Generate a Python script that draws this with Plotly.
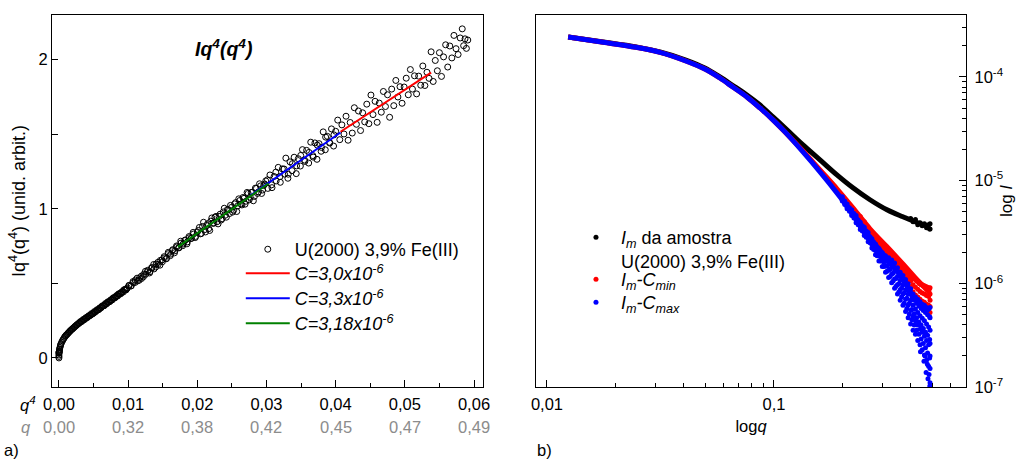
import plotly.graph_objects as go

# ---------------- Panel a) data : Iq^4 versus q^4 ----------------
q4_points = [
    0.0, 0.0, 0.0, 0.0, 0.00001, 0.00002, 0.00003, 0.00005, 0.00008, 0.0001, 0.00015, 0.0002,
    0.00025, 0.0003, 0.0004, 0.0005, 0.0006, 0.0007, 0.0008, 0.0009, 0.0010,
    0.0011, 0.0012, 0.0013, 0.0014, 0.0015, 0.0016, 0.0017, 0.0018, 0.0019, 0.0020, 0.0021,
    0.0022, 0.0023, 0.0024, 0.0025, 0.0026, 0.0027, 0.0028, 0.0029,
    0.0030, 0.0032, 0.0034, 0.0036, 0.0038, 0.0040, 0.0042, 0.0044, 0.0046, 0.0048,
    0.0050, 0.0052, 0.0054, 0.0056, 0.0058, 0.0060, 0.0062, 0.0064, 0.0066, 0.0068, 0.0070,
    0.0072, 0.0074, 0.0076, 0.0078, 0.0080, 0.0082, 0.0084, 0.0086, 0.0088, 0.0090, 0.0092,
    0.0094, 0.0096, 0.0098,
    0.0031, 0.0033, 0.0035, 0.0037, 0.0039, 0.0041, 0.0043, 0.0045, 0.0047, 0.0049,
    0.0051, 0.0053, 0.0055, 0.0057, 0.0059, 0.0061, 0.0063, 0.0065, 0.0067, 0.0069,
    0.0071, 0.0073, 0.0075, 0.0077, 0.0079, 0.0081, 0.0083, 0.0085, 0.0087, 0.0089,
    0.0091, 0.0093, 0.0095, 0.0097, 0.0099,
    0.0101, 0.0104, 0.0107, 0.0110, 0.0113, 0.0116, 0.0119, 0.0122, 0.0125, 0.0128, 0.0131,
    0.0134, 0.0137, 0.0140, 0.0143, 0.0146, 0.0149, 0.0152, 0.0155, 0.0158, 0.0161, 0.0164,
    0.0167, 0.0170, 0.0173, 0.0176, 0.0179, 0.0182, 0.0185, 0.0188, 0.0191, 0.0194, 0.0197,
    0.0200,
    0.01015, 0.01045, 0.01075, 0.01105, 0.01135, 0.01165, 0.01195, 0.01225, 0.01255, 0.01285,
    0.01315, 0.01345, 0.01375, 0.01405, 0.01435, 0.01465, 0.01495, 0.01525, 0.01555, 0.01585,
    0.01615, 0.01645, 0.01675, 0.01705, 0.01735, 0.01765, 0.01795, 0.01825, 0.01855, 0.01885,
    0.01915, 0.01945, 0.01975,
    0.0203, 0.0206, 0.0209, 0.0212, 0.0215, 0.0218, 0.0221, 0.0224, 0.0227, 0.0230, 0.0233,
    0.0236, 0.0239, 0.0242, 0.0245, 0.0248, 0.0251, 0.0254, 0.0257, 0.0260, 0.0263, 0.0266,
    0.0269, 0.0272, 0.0275, 0.0278, 0.0281, 0.0284, 0.0287, 0.0290, 0.0293, 0.0296, 0.0299,
    0.02015, 0.02045, 0.02075, 0.02105, 0.02135, 0.02165, 0.02195, 0.02225, 0.02255, 0.02285,
    0.02315, 0.02345, 0.02375, 0.02405, 0.02435, 0.02465, 0.02495, 0.02525, 0.02555, 0.02585,
    0.02615, 0.02645, 0.02675, 0.02705, 0.02735, 0.02765, 0.02795, 0.02825, 0.02855, 0.02885,
    0.02915, 0.02945, 0.02975,
    0.0302, 0.0305, 0.0308, 0.0311, 0.0314, 0.0317, 0.0320, 0.0323, 0.0326, 0.0328, 0.0331,
    0.0334, 0.0337, 0.0340, 0.0343, 0.0346, 0.0349, 0.0352, 0.0355, 0.0358, 0.0361, 0.0364,
    0.0367, 0.0370, 0.0373, 0.0376, 0.0379, 0.0382, 0.0385, 0.0388, 0.0391, 0.0394, 0.0397,
    0.0400,
    0.03015, 0.03075, 0.03135, 0.03195, 0.03255, 0.03315, 0.03375, 0.03435, 0.03495, 0.03555,
    0.03615, 0.03675, 0.03735, 0.03795, 0.03855, 0.03915, 0.03975,
    0.0403, 0.0406, 0.0409, 0.0412, 0.0415, 0.0418, 0.0421, 0.0424, 0.0427, 0.0430, 0.0433,
    0.0436, 0.0439, 0.0442, 0.0445, 0.0448, 0.0451, 0.0454, 0.0457, 0.0460, 0.0463, 0.0466,
    0.0469, 0.0472, 0.0475, 0.0478, 0.0481, 0.0484, 0.0487, 0.0490, 0.0493, 0.0496, 0.0499,
    0.0502, 0.0505, 0.0508, 0.0511, 0.0514, 0.0517, 0.0520, 0.0523, 0.0526, 0.0529, 0.0532,
    0.0535, 0.0538, 0.0541, 0.0544, 0.0547, 0.0550, 0.0553, 0.0556, 0.0559, 0.0562, 0.0565,
    0.0568, 0.0571, 0.0574, 0.0577, 0.0580, 0.0583, 0.0585, 0.0587, 0.0589, 0.0591,
]
iq4_points = [
    0.000, 0.010, 0.020, 0.030, 0.034, 0.038, 0.042, 0.045, 0.055, 0.060, 0.070, 0.080,
    0.088, 0.095, 0.105, 0.115, 0.123, 0.130, 0.138, 0.145, 0.150,
    0.155, 0.160, 0.165, 0.170, 0.175, 0.180, 0.185, 0.189, 0.193, 0.197, 0.201,
    0.206, 0.210, 0.214, 0.218, 0.222, 0.226, 0.230, 0.233,
    0.237, 0.244, 0.250, 0.257, 0.263, 0.270, 0.276, 0.282, 0.288, 0.294,
    0.300, 0.307, 0.316, 0.321, 0.326, 0.335, 0.345, 0.349, 0.353, 0.363, 0.372,
    0.376, 0.381, 0.390, 0.400, 0.404, 0.408, 0.418, 0.428, 0.432, 0.436, 0.446,
    0.457, 0.460, 0.463,
    0.243, 0.245, 0.257, 0.258, 0.270, 0.271, 0.283, 0.285, 0.297, 0.298,
    0.310, 0.311, 0.323, 0.324, 0.336, 0.337, 0.350, 0.350, 0.364, 0.363,
    0.377, 0.376, 0.390, 0.389, 0.404, 0.403, 0.417, 0.416, 0.430, 0.429,
    0.443, 0.442, 0.457, 0.456, 0.470,
    0.486, 0.483, 0.512, 0.506, 0.535, 0.521, 0.548, 0.544, 0.581, 0.578, 0.570,
    0.606, 0.627, 0.610, 0.641, 0.622, 0.657, 0.679, 0.665, 0.708, 0.686, 0.720,
    0.705, 0.751, 0.740, 0.783, 0.753, 0.787, 0.765, 0.814, 0.801, 0.842, 0.807,
    0.845,
    0.485, 0.483, 0.505, 0.522, 0.516, 0.536, 0.533, 0.561, 0.561, 0.588,
    0.578, 0.603, 0.597, 0.629, 0.627, 0.654, 0.645, 0.671, 0.667, 0.700,
    0.696, 0.726, 0.718, 0.745, 0.738, 0.770, 0.764, 0.791, 0.778, 0.806,
    0.802, 0.831, 0.815,
    0.875, 0.835, 0.910, 0.845, 0.900, 0.855, 0.939, 0.904, 0.949, 0.899, 0.964,
    0.934, 1.004, 0.944, 0.994, 1.023, 0.978, 1.033, 0.982, 1.067, 1.032, 1.076,
    1.031, 1.110, 1.060, 1.110, 1.054, 1.139, 1.103, 1.168, 1.103, 1.157, 1.187,
    0.855, 0.832, 0.882, 0.860, 0.888, 0.867, 0.917, 0.903, 0.944, 0.913,
    0.949, 0.925, 0.979, 0.957, 0.995, 0.968, 1.010, 0.990, 1.042, 1.020,
    1.056, 1.026, 1.070, 1.051, 1.103, 1.077, 1.111, 1.083, 1.137, 1.114,
    1.154, 1.126, 1.166,
    1.137, 1.227, 1.142, 1.217, 1.187, 1.278, 1.178, 1.268, 1.233, 1.340, 1.205,
    1.315, 1.256, 1.346, 1.236, 1.336, 1.287, 1.397, 1.327, 1.392, 1.307, 1.447,
    1.357, 1.442, 1.332, 1.437, 1.386, 1.516, 1.396, 1.486, 1.446, 1.536, 1.421,
    1.520,
    1.195, 1.161, 1.246, 1.216, 1.267, 1.232, 1.303, 1.288, 1.358, 1.318,
    1.378, 1.347, 1.427, 1.412, 1.481, 1.441, 1.496,
    1.595, 1.464, 1.563, 1.502, 1.621, 1.460, 1.579, 1.508, 1.678, 1.567, 1.656,
    1.525, 1.644, 1.583, 1.702, 1.571, 1.763, 1.632, 1.721, 1.580, 1.709, 1.648,
    1.787, 1.686, 1.765, 1.614, 1.803, 1.692, 1.861, 1.750, 1.819, 1.708, 1.817,
    1.876, 1.765, 1.934, 1.803, 1.892, 1.771, 1.890, 1.829, 1.958, 1.827, 1.916,
    1.875, 2.053, 1.854, 1.995, 1.926, 2.047, 1.888, 2.019, 2.100, 1.951, 2.092,
    2.012, 2.163, 2.074, 2.035, 2.146, 2.207, 2.094, 2.140, 2.076, 2.132,
]

# linear fits (start / end points of each fitted segment)
fit_c30_q4 = [0.0407, 0.0538]
fit_c30_v = [1.517, 1.913]
fit_c33_q4 = [0.0277, 0.0407]
fit_c33_v = [1.090, 1.512]
fit_c318_q4 = [0.0172, 0.0303]
fit_c318_v = [0.745, 1.170]

q4_tick_vals = [0.00, 0.01, 0.02, 0.03, 0.04, 0.05, 0.06]
q4_tick_text = ["0,00", "0,01", "0,02", "0,03", "0,04", "0,05", "0,06"]
q_tick_text = ["0,00", "0,32", "0,38", "0,42", "0,45", "0,47", "0,49"]

# ---------------- Panel b) data : log10(I) versus q ----------------
q_smooth = [0.0124, 0.0177, 0.0247, 0.0315, 0.0409, 0.0496, 0.0578, 0.0659, 0.0760, 0.0868,
            0.0990, 0.1129, 0.1342, 0.1595, 0.1894, 0.2228, 0.2648, 0.3147, 0.3700, 0.4180,
            0.4866]
logI_amostra = [-3.614, -3.662, -3.710, -3.758, -3.836, -3.913, -4.000, -4.082, -4.174, -4.271,
                -4.386, -4.502, -4.657, -4.802, -4.947, -5.072, -5.188, -5.285, -5.353, -5.401,
                -5.449]
logI_cmin = [-3.614, -3.664, -3.713, -3.762, -3.845, -3.923, -4.010, -4.097, -4.193, -4.300,
             -4.415, -4.541, -4.715, -4.899, -5.082, -5.266, -5.469, -5.643, -5.810, -5.940,
             -6.090]
logI_cmax = [-3.614, -3.664, -3.713, -3.762, -3.845, -3.923, -4.010, -4.097, -4.193, -4.300,
             -4.415, -4.541, -4.725, -4.918, -5.121, -5.324, -5.556, -5.760, -5.950, -6.150,
             -6.260]

q_amostra_end = [0.40, 0.41, 0.42, 0.43, 0.44, 0.45, 0.46, 0.47, 0.48, 0.485, 0.487, 0.487]
logI_amostra_end = [-5.37, -5.40, -5.38, -5.43, -5.41, -5.44, -5.42, -5.46, -5.43, -5.47, -5.42, -5.47]

q_cmin_noisy = [
    0.240, 0.240, 0.240, 0.250, 0.250, 0.250, 0.260, 0.260, 0.260, 0.270, 0.270, 0.270,
    0.280, 0.280, 0.280, 0.290, 0.290, 0.290, 0.300, 0.300, 0.300, 0.310, 0.310, 0.310,
    0.320, 0.320, 0.320, 0.330, 0.330, 0.330, 0.340, 0.340, 0.340, 0.350, 0.350, 0.350,
    0.360, 0.360, 0.360, 0.370, 0.370, 0.370, 0.380, 0.380, 0.380, 0.390, 0.390, 0.390,
    0.400, 0.400, 0.400, 0.410, 0.410, 0.410, 0.420, 0.420, 0.420, 0.430, 0.430, 0.430,
    0.440, 0.440, 0.440, 0.450, 0.450, 0.450, 0.460, 0.460, 0.460, 0.470, 0.470, 0.470,
    0.480, 0.480, 0.480, 0.487, 0.487, 0.487, 0.487, 0.487,
    0.345, 0.355, 0.365, 0.375, 0.385, 0.395, 0.405, 0.415, 0.425, 0.435, 0.445, 0.455,
    0.465, 0.475, 0.484,
]
logI_cmin_noisy = [
    -5.350, -5.375, -5.400, -5.400, -5.425, -5.450, -5.460, -5.480, -5.500, -5.510, -5.535, -5.560,
    -5.550, -5.580, -5.610, -5.590, -5.620, -5.650, -5.620, -5.655, -5.690, -5.650, -5.685, -5.720,
    -5.680, -5.710, -5.740, -5.710, -5.735, -5.760, -5.740, -5.765, -5.790, -5.770, -5.800, -5.830,
    -5.800, -5.835, -5.870, -5.830, -5.865, -5.900, -5.860, -5.900, -5.940, -5.890, -5.935, -5.980,
    -5.920, -5.975, -6.030, -5.940, -6.010, -6.080, -5.960, -6.035, -6.110, -5.980, -6.055, -6.130,
    -6.000, -6.075, -6.150, -6.010, -6.090, -6.170, -6.020, -6.100, -6.180, -6.030, -6.115, -6.200,
    -6.040, -6.125, -6.210, -6.040, -6.100, -6.160, -6.220, -6.280,
    -5.760, -5.790, -5.820, -5.850, -5.880, -5.910, -5.935, -5.955, -5.975, -5.995, -6.010, -6.020,
    -6.030, -6.040, -6.050,
]

q_cmax_noisy = [
    0.200, 0.200, 0.200, 0.200, 0.205, 0.205, 0.205, 0.210, 0.210, 0.210, 0.210,
    0.215, 0.215, 0.215, 0.220, 0.220, 0.220, 0.220, 0.225, 0.225, 0.225,
    0.230, 0.230, 0.230, 0.230, 0.235, 0.235, 0.235, 0.240, 0.240, 0.240, 0.240,
    0.245, 0.245, 0.245, 0.250, 0.250, 0.250, 0.250, 0.255, 0.255, 0.255,
    0.260, 0.260, 0.260, 0.260, 0.265, 0.265, 0.265, 0.270, 0.270, 0.270, 0.270,
    0.275, 0.275, 0.275, 0.280, 0.280, 0.280, 0.280, 0.285, 0.285, 0.285,
    0.290, 0.290, 0.290, 0.290, 0.295, 0.295, 0.295, 0.300, 0.300, 0.300, 0.300,
    0.305, 0.305, 0.305, 0.310, 0.310, 0.310, 0.310, 0.315, 0.315, 0.315,
    0.320, 0.320, 0.320, 0.320, 0.325, 0.325, 0.325, 0.330, 0.330, 0.330, 0.330,
    0.335, 0.335, 0.335, 0.340, 0.340, 0.340, 0.340, 0.345, 0.345, 0.345,
    0.350, 0.350, 0.350, 0.350, 0.355, 0.355, 0.355, 0.360, 0.360, 0.360, 0.360,
    0.365, 0.365, 0.365, 0.370, 0.370, 0.370, 0.370, 0.375, 0.375, 0.375,
    0.380, 0.380, 0.380, 0.380, 0.385, 0.385, 0.385, 0.390, 0.390, 0.390, 0.390,
    0.395, 0.395, 0.395, 0.400, 0.400, 0.400, 0.400, 0.405, 0.405, 0.405,
    0.410, 0.410, 0.410, 0.410, 0.415, 0.415, 0.415, 0.420, 0.420, 0.420, 0.420,
    0.425, 0.425, 0.425, 0.430, 0.430, 0.430, 0.430, 0.435, 0.435, 0.435,
    0.440, 0.440, 0.440, 0.440, 0.445, 0.445, 0.445, 0.450, 0.450, 0.450, 0.450,
    0.455, 0.455, 0.455, 0.460, 0.460, 0.460, 0.460, 0.465, 0.465, 0.465,
    0.470, 0.470, 0.470, 0.470, 0.475, 0.475, 0.475, 0.480, 0.480, 0.480, 0.480,
    0.485, 0.485, 0.485, 0.487, 0.487, 0.487, 0.487, 0.487, 0.487, 0.487,
    0.442, 0.458, 0.468, 0.477, 0.482, 0.486, 0.474, 0.463,
]
logI_cmax_noisy = [
    -5.160, -5.175, -5.190, -5.200, -5.200, -5.220, -5.235, -5.230, -5.250, -5.260, -5.275,
    -5.265, -5.285, -5.300, -5.285, -5.305, -5.320, -5.340, -5.320, -5.345, -5.365,
    -5.340, -5.365, -5.385, -5.410, -5.385, -5.410, -5.430, -5.405, -5.430, -5.450, -5.475,
    -5.440, -5.465, -5.490, -5.455, -5.480, -5.505, -5.535, -5.490, -5.520, -5.550,
    -5.505, -5.535, -5.560, -5.595, -5.545, -5.580, -5.605, -5.565, -5.590, -5.620, -5.655,
    -5.600, -5.640, -5.670, -5.615, -5.650, -5.680, -5.720, -5.650, -5.690, -5.730,
    -5.660, -5.695, -5.730, -5.780, -5.695, -5.740, -5.780, -5.700, -5.740, -5.780, -5.835,
    -5.735, -5.790, -5.835, -5.730, -5.780, -5.830, -5.890, -5.760, -5.830, -5.880,
    -5.750, -5.810, -5.870, -5.940, -5.790, -5.860, -5.930, -5.770, -5.840, -5.910, -5.990,
    -5.820, -5.900, -5.975, -5.800, -5.880, -5.955, -6.045, -5.855, -5.950, -6.025,
    -5.845, -5.930, -6.010, -6.100, -5.900, -6.000, -6.080, -5.890, -5.970, -6.060, -6.160,
    -5.940, -6.045, -6.130, -5.920, -6.010, -6.100, -6.210, -5.980, -6.090, -6.190,
    -5.960, -6.060, -6.150, -6.270, -6.020, -6.140, -6.240, -6.000, -6.100, -6.210, -6.330,
    -6.070, -6.190, -6.295, -6.050, -6.160, -6.260, -6.390, -6.120, -6.250, -6.350,
    -6.100, -6.210, -6.320, -6.450, -6.160, -6.290, -6.400, -6.130, -6.245, -6.360, -6.490,
    -6.190, -6.330, -6.450, -6.150, -6.280, -6.400, -6.550, -6.215, -6.370, -6.490,
    -6.175, -6.310, -6.440, -6.590, -6.240, -6.400, -6.535, -6.200, -6.335, -6.470, -6.640,
    -6.260, -6.435, -6.580, -6.210, -6.360, -6.510, -6.690, -6.280, -6.470, -6.620,
    -6.230, -6.390, -6.550, -6.740, -6.300, -6.500, -6.670, -6.245, -6.420, -6.590, -6.800,
    -6.320, -6.540, -6.720, -6.230, -6.330, -6.450, -6.580, -6.700, -6.820, -6.960,
    -6.660, -6.750, -6.860, -6.920, -6.880, -6.990, -6.780, -6.700,
]


def to_I(log_values):
    return [10 ** v for v in log_values]


FONT = "Arial, Liberation Sans, sans-serif"
LEG_FONT = 18
TICK_FONT = 16.5
GRAY = "#8c8c8c"
fig = go.Figure()

# ---- panel a traces ----
fig.add_trace(go.Scatter(
    x=q4_points, y=iq4_points, mode="markers", name="U(2000) 3,9% Fe(III)",
    marker=dict(symbol="circle-open", size=6, color="black", line=dict(width=1, color="black")),
    xaxis="x", yaxis="y", legend="legend"))
fig.add_trace(go.Scatter(
    x=fit_c30_q4, y=fit_c30_v, mode="lines", name="<i>C=3,0x10<sup>-6</sup></i>",
    line=dict(color="#ff0000", width=2), xaxis="x", yaxis="y", legend="legend3"))
fig.add_trace(go.Scatter(
    x=fit_c33_q4, y=fit_c33_v, mode="lines", name="<i>C=3,3x10<sup>-6</sup></i>",
    line=dict(color="#0000ff", width=2), xaxis="x", yaxis="y", legend="legend4"))
fig.add_trace(go.Scatter(
    x=fit_c318_q4, y=fit_c318_v, mode="lines", name="<i>C=3,18x10<sup>-6</sup></i>",
    line=dict(color="#008000", width=2), xaxis="x", yaxis="y", legend="legend5"))

# ---- panel b traces ----
fig.add_trace(go.Scatter(
    x=q_smooth, y=to_I(logI_amostra), mode="lines", showlegend=False,
    line=dict(color="black", width=5, shape="spline"), xaxis="x2", yaxis="y2"))
fig.add_trace(go.Scatter(
    x=q_amostra_end, y=to_I(logI_amostra_end), mode="markers",
    name="<i>I<sub>m</sub></i> da amostra<br>U(2000) 3,9% Fe(III)",
    marker=dict(color="black", size=5), xaxis="x2", yaxis="y2", legend="legend2"))
fig.add_trace(go.Scatter(
    x=q_smooth, y=to_I(logI_cmin), mode="lines", showlegend=False,
    line=dict(color="#ff0000", width=5, shape="spline"), xaxis="x2", yaxis="y2"))
fig.add_trace(go.Scatter(
    x=q_cmin_noisy, y=to_I(logI_cmin_noisy), mode="markers",
    name="<i>I<sub>m</sub>-C<sub>min</sub></i>",
    marker=dict(color="#ff0000", size=5), xaxis="x2", yaxis="y2", legend="legend6"))
fig.add_trace(go.Scatter(
    x=q_smooth, y=to_I(logI_cmax), mode="lines", showlegend=False,
    line=dict(color="#0000ff", width=5, shape="spline"), xaxis="x2", yaxis="y2"))
fig.add_trace(go.Scatter(
    x=q_cmax_noisy, y=to_I(logI_cmax_noisy), mode="markers",
    name="<i>I<sub>m</sub>-C<sub>max</sub></i>",
    marker=dict(color="#0000ff", size=5), xaxis="x2", yaxis="y2", legend="legend7"))

axis_common = dict(showline=True, linecolor="black", linewidth=1.3, mirror=True,
                   showgrid=False, zeroline=False, ticks="inside", tickcolor="black",
                   tickwidth=1.3, automargin=False,
                   tickfont=dict(size=TICK_FONT, color="black", family=FONT))

minor_q = [0.02, 0.03, 0.04, 0.05, 0.06, 0.07, 0.08, 0.09, 0.2, 0.3, 0.4, 0.5, 0.6, 0.7]
minor_I = [m * 10.0 ** e for e in (-7, -6, -5, -4) for m in range(2, 10)]


def leg(x, y, width):
    return dict(x=x, y=y, xanchor="left", yanchor="top", bgcolor="rgba(0,0,0,0)",
                font=dict(size=LEG_FONT, family=FONT, color="black"), tracegroupgap=0,
                valign="top", itemwidth=width)


def note(text, x, y, size, color="black", xref="paper"):
    return dict(text=text, x=x, y=y, xref=xref, yref="paper", showarrow=False,
                xanchor="center", yanchor="middle",
                font=dict(size=size, color=color, family=FONT))


fig.update_layout(
    width=1016, height=461, margin=dict(l=0, r=0, t=0, b=0),
    paper_bgcolor="white", plot_bgcolor="white",
    font=dict(family=FONT, size=16, color="black"),
    xaxis=dict(domain=[0.0512, 0.4754], range=[-0.001, 0.0613], anchor="y",
               tickvals=q4_tick_vals, ticktext=q4_tick_text, ticklen=7, ticklabelstandoff=2,
               minor=dict(dtick=0.005, tick0=0, ticks="inside", ticklen=4,
                          tickcolor="black", tickwidth=1.3),
               **axis_common),
    yaxis=dict(domain=[0.1605, 0.9675], range=[-0.195, 2.30], anchor="x",
               tickvals=[0, 0.5, 1, 1.5, 2], ticktext=["0", "", "1", "", "2"], ticklen=6,
               title=dict(text="Iq<sup>4</sup>(q<sup>4</sup>) (unid. arbit.)",
                          font=dict(size=18, family=FONT), standoff=8),
               **axis_common),
    xaxis2=dict(domain=[0.5276, 0.9508], type="log", range=[-2.048, -0.154], anchor="y2",
                tickvals=[0.01, 0.1], ticktext=["0,01", "0,1"], ticklen=7, ticklabelstandoff=2,
                minor=dict(tickvals=minor_q, ticks="inside", ticklen=4,
                           tickcolor="black", tickwidth=1.3),
                title=dict(text="log<i>q</i>", font=dict(size=16.5, family=FONT), standoff=8),
                **axis_common),
    yaxis2=dict(domain=[0.1605, 0.9675], type="log", range=[-7, -3.4], anchor="x2",
                side="right", ticklabelstandoff=4,
                tickvals=[1e-7, 1e-6, 1e-5, 1e-4],
                ticktext=["10<sup>-7</sup>", "10<sup>-6</sup>", "10<sup>-5</sup>", "10<sup>-4</sup>"],
                ticklen=7,
                minor=dict(tickvals=minor_I, ticks="inside", ticklen=4,
                           tickcolor="black", tickwidth=1.3),
                title=dict(text="log <i>I</i>", font=dict(size=17, family=FONT), standoff=1),
                **axis_common),
    legend=leg(0.237, 0.4989, 44),
    legend3=leg(0.237, 0.4469, 44),
    legend4=leg(0.237, 0.3926, 44),
    legend5=leg(0.237, 0.3384, 44),
    legend2=leg(0.562, 0.525, 40),
    legend6=leg(0.562, 0.4335, 40),
    legend7=leg(0.562, 0.384, 40),
    annotations=[
        note("<b><i>Iq<sup>4</sup>(q<sup>4</sup>)</i></b>", 0.2195, 0.896, 19.5),
        note("<i>q<sup>4</sup></i>", 0.0276, 0.1236, TICK_FONT),
        note("<i>q</i>", 0.0256, 0.0738, TICK_FONT, GRAY),
        note("a)", 0.0118, 0.024, 16.5),
        note("b)", 0.5364, 0.024, 16.5),
    ] + [
        note(lab, val, 0.0738, TICK_FONT, GRAY, xref="x")
        for val, lab in zip(q4_tick_vals, q_tick_text)
    ],
)

fig.write_html("out.html")
